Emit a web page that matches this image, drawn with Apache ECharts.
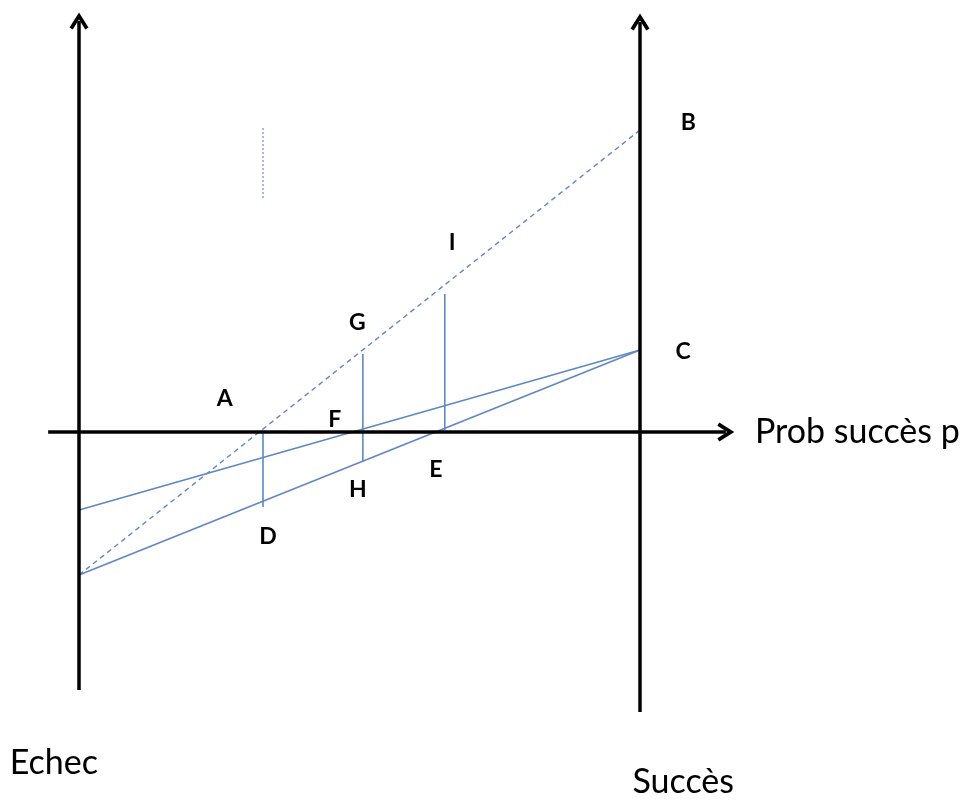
<!DOCTYPE html>
<html>
<head>
<meta charset="utf-8">
<script src="https://cdn.jsdelivr.net/npm/echarts@6/dist/echarts.min.js"></script>
<style>html,body{margin:0;padding:0;background:#fff}#chart{width:968px;height:800px}</style>
</head>
<body>
<div id="chart"></div>
<script>
// ---- data (x = probability of success, y = utility units) ----
const axisHorizontal = [[-0.055, 0], [1.153, 0]];
const axisLeft = [[0, -2.58], [0, 4.11]];
const axisRight = [[1, -2.8], [1, 4.10]];

const lineDashedAB = [[0, -1.43], [1, 3.02]];
const lineUpperC = [[0, -0.78], [1, 0.82]];
const lineLowerC = [[0, -1.43], [1, 0.82]];
const segAD = [[0.328, 0], [0.328, -0.75]];
const segGH = [[0.506, 0.78], [0.506, -0.30]];
const segI = [[0.652, 1.38], [0.652, 0.02]];
const dottedSeg = [[0.328, 3.04], [0.328, 2.32]];

const pointLabels = [
  ['A', 0.26, 0.33], ['B', 1.086, 3.09], ['C', 1.077, 0.80],
  ['D', 0.337, -1.05], ['E', 0.636, -0.38], ['F', 0.456, 0.12],
  ['G', 0.496, 1.09], ['H', 0.497, -0.58], ['I', 0.665, 1.89]
];
const axisTitles = [
  ['Echec', -0.045, -3.31, 'center'],
  ['Succès', 1.077, -3.5, 'center'],
  ['Prob succès p', 1.205, 0, 'left']
];

const chevron = 'path://M0,17 L10,0 L20,17 L16.6,19.2 L10,8 L3.4,19.2 Z';
const blue = '#5f87c2';

const chart = echarts.init(document.getElementById('chart'));
function seg(data, style) {
  return { type: 'line', data: data, symbol: 'none', clip: false, silent: true,
    lineStyle: Object.assign({ color: blue, width: 1.6 }, style) };
}
const textBase = { show: true, position: 'inside', formatter: '{b}', color: '#000',
  opacity: 1, textBorderWidth: 0, textBorderColor: 'transparent', fontFamily: 'Lato' };
chart.setOption({
  animation: false,
  backgroundColor: '#fff',
  grid: { left: 22.9, right: 159.7, top: 2, bottom: 8 },
  xAxis: { type: 'value', min: -0.1, max: 1.3, show: false },
  yAxis: { type: 'value', min: -3.6, max: 4.3, show: false },
  series: [
    seg(lineDashedAB, { type: [5, 4], width: 1.4 }),
    seg(lineUpperC, {}),
    seg(lineLowerC, {}),
    seg(segAD, {}),
    seg(segGH, {}),
    seg(segI, {}),
    seg(dottedSeg, { type: [2, 2], color: '#8fa5cc', width: 1.5 }),
    {
      type: 'line', data: [], clip: false, silent: true,
      markLine: {
        silent: true, animation: false,
        symbol: ['none', chevron], symbolSize: [19, 17],
        label: { show: false },
        lineStyle: { color: '#000', width: 3.5, type: 'solid', opacity: 1 },
        itemStyle: { color: '#000' },
        data: [
          [{ coord: axisHorizontal[0] }, { coord: axisHorizontal[1] }],
          [{ coord: axisLeft[0] }, { coord: axisLeft[1] }],
          [{ coord: axisRight[0] }, { coord: axisRight[1] }]
        ]
      }
    },
    {
      type: 'scatter', clip: false, silent: true, symbolSize: 0,
      itemStyle: { color: '#000', opacity: 1 },
      data: pointLabels.map(p => ({ name: p[0], value: [p[1], p[2]] })),
      label: Object.assign({}, textBase, { fontSize: 23, fontWeight: 'bold' })
    },
    {
      type: 'scatter', clip: false, silent: true, symbolSize: 0,
      itemStyle: { color: '#000', opacity: 1 },
      data: axisTitles.map(p => ({ name: p[0], value: [p[1], p[2]],
        label: { align: p[3] } })),
      label: Object.assign({}, textBase, { fontSize: 34 })
    }
  ]
});
</script>
</body>
</html>
